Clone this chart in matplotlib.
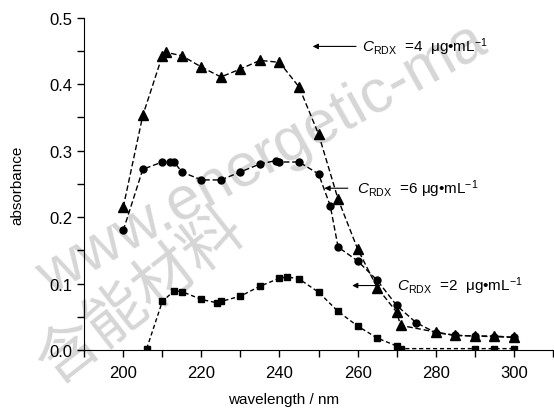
import numpy as np
import matplotlib
matplotlib.use("Agg")
import matplotlib.pyplot as plt

plt.rcParams['font.family'] = ['Liberation Sans', 'DejaVu Sans']
plt.rcParams['mathtext.fontset'] = 'custom'
plt.rcParams['mathtext.rm'] = 'Liberation Sans'
plt.rcParams['mathtext.it'] = 'Liberation Sans:italic'

#C_RDX = 4 ug/mL (triangles)
wl_4 = [200, 205, 210, 211, 215, 220, 225, 230, 235, 240, 245, 250,
        255, 260, 265, 270, 271, 280, 285, 290, 295, 300]
abs_4 = [0.215, 0.353, 0.443, 0.448, 0.443, 0.426, 0.411, 0.423, 0.436, 0.433, 0.396, 0.325,
         0.227, 0.152, 0.094, 0.057, 0.037, 0.027, 0.022, 0.021, 0.021, 0.019]

#C_RDX = 6 ug/mL (circles)
wl_6 = [200, 205, 210, 212, 213, 215, 220, 225, 230, 235, 239, 240, 245, 250,
        253, 255, 260, 265, 270, 275, 280, 285, 290, 295, 300]
abs_6 = [0.180, 0.272, 0.283, 0.283, 0.283, 0.268, 0.256, 0.256, 0.268, 0.280, 0.285, 0.283, 0.283, 0.265,
         0.217, 0.155, 0.134, 0.105, 0.067, 0.041, 0.026, 0.022, 0.021, 0.020, 0.019]

#C_RDX = 2 ug/mL (squares)
wl_2 = [206, 210, 213, 215, 220, 224, 225, 230, 235, 240, 242, 245, 250,
        255, 260, 265, 270, 271, 290, 295, 300]
abs_2 = [0.002, 0.073, 0.089, 0.088, 0.076, 0.071, 0.073, 0.081, 0.096, 0.108, 0.110, 0.107, 0.087,
         0.058, 0.036, 0.018, 0.006, 0.002, 0.002, 0.002, 0.002]

fig = plt.figure(figsize=(5.54, 4.10), dpi=100)
ax = fig.add_axes([0.152, 0.144, 0.846, 0.810])

#watermark (behind the axes)
fig.text(0.473, 0.61, "www.energetic-ma", fontsize=44, color='#d6d6d6',
         rotation=29, rotation_mode='anchor', ha='center', va='center', zorder=-1)
fig.text(0.256, 0.278, "含能材料", fontsize=44, color='#d6d6d6', rotation=38,
         rotation_mode='anchor', family=['Noto Sans CJK SC', 'DejaVu Sans'],
         ha='center', va='center', zorder=-1)

ax.patch.set_alpha(0)
ax.plot(wl_4, abs_4, color='black', lw=1, ls=(0, (4, 2)), marker='^', ms=7)
ax.plot(wl_6, abs_6, color='black', lw=1, ls=(0, (4, 2)), marker='o', ms=5)
ax.plot(wl_2, abs_2, color='black', lw=1, ls=(0, (3, 2)), marker='s', ms=5)

ax.set_xlim(190, 310)
ax.set_ylim(0, 0.5)
ax.set_xticks([200, 220, 240, 260, 280, 300])
ax.set_xticks(np.arange(190, 311, 10), minor=True)
ax.set_yticks([0.0, 0.1, 0.2, 0.3, 0.4, 0.5])
ax.set_yticks(np.arange(0.05, 0.5, 0.1), minor=True)
ax.set_yticklabels(["0.0", "0.1", "0.2", "0.3", "0.4", "0.5"])
ax.tick_params(which='both', direction='out', length=5, width=1, labelsize=12)
ax.tick_params(axis='x', pad=6)
ax.spines['top'].set_visible(False)
ax.spines['right'].set_visible(False)

ax.set_xlabel("wavelength / nm", fontsize=11)
ax.xaxis.set_label_coords(0.426, -0.128)
ax.set_ylabel("absorbance", fontsize=11, labelpad=18)

#labels with arrows
labels = [r"$C_{\mathrm{RDX}}$  =4  μg•mL$^{\mathrm{-1}}$",
          r"$C_{\mathrm{RDX}}$  =6 μg•mL$^{\mathrm{-1}}$",
          r"$C_{\mathrm{RDX}}$  =2  μg•mL$^{\mathrm{-1}}$"]
arrow_tips = [(248.5, 0.457), (251.5, 0.2435), (258.6, 0.097)]
arrow_tails = [(259.6, 0.457), (257.5, 0.2435), (265.6, 0.097)]
text_x = [261.2, 259.9, 270.2]
for lab, tip, tail, tx in zip(labels, arrow_tips, arrow_tails, text_x):
    ax.annotate("", xy=tip, xytext=tail,
                arrowprops=dict(arrowstyle='-|>', color='black', lw=0.8,
                                mutation_scale=8, shrinkA=0, shrinkB=0))
    ax.text(tx, tail[1], lab, fontsize=11, ha='left', va='center')

fig.savefig("out.png", dpi=100)
